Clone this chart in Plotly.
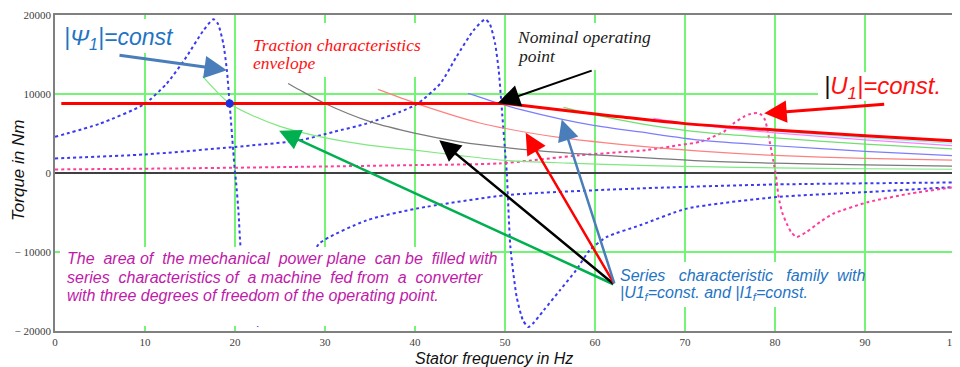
import plotly.graph_objects as go

# ---------------- data ----------------
# |Psi1| = const curves (blue dotted)
psi_a_f = [0, 5, 9.9, 12.4, 14.6, 16.5, 17.6, 18.1, 18.7, 19.1, 19.4, 19.8, 20.0, 20.1, 20.4,
           20.6, 21.3, 22.0, 22.6, 23.1, 24.3, 26.1, 27.9, 29.4, 34.6, 40.2, 50.2, 65, 80, 100]
psi_a_T = [4580, 6250, 8700, 11300, 14700, 18060, 19450, 18900, 16380, 13000, 8790, 2870, 0, -920, -5140,
           -9150, -15500, -18500, -19400, -19000, -17300, -14500, -11800, -8900, -6000, -4500, -2800, -1950, -1450, -1200]

psi_b_f = [0, 10, 20, 27.2, 30.9, 34.6, 38.3, 40.2, 42.8, 44.6, 46.5, 47.8, 48.3, 48.9, 49.3, 49.6,
           50.0, 50.2, 50.6, 51.3, 52.0, 52.6, 53.1, 54.3, 56.1, 57.9, 59.4, 61.3, 65, 70.2, 80.2, 90.4, 100]
psi_b_T = [1840, 2350, 3300, 4130, 5190, 6250, 7720, 8700, 11300, 14700, 18060, 19450, 18900, 16380, 13000, 8790,
           2870, 0, -9370, -15700, -18650, -19500, -19060, -17380, -14850, -12300, -9780, -8100, -6620, -4510, -3040, -2400, -1770]

# |U1| = const curve (pink dotted)
u1_f = [0, 15, 27.2, 40, 49.4, 58.3, 65.7, 69.4, 71.7, 73.1, 74.3, 75.4, 76.5, 77.2, 78.0, 78.5, 78.9,
        79.2, 79.45, 79.8, 80.1, 80.4, 80.8, 81.3, 81.8, 82.4, 83.5, 85, 86.5, 90.4, 95, 100]
u1_T = [450, 600, 780, 1000, 1210, 2250, 2900, 3530, 3950, 4580, 5210, 6280, 7110, 7450, 7600, 7350, 6700,
        5210, 3740, 1630, -270, -3020, -5000, -6400, -7500, -8100, -7470, -6200, -5140, -3670, -2610, -1770]

# traction characteristics envelope (red): constant-torque part and falling part
env_flat_f = [0.7, 50]
env_flat_T = [8800, 8800]
env_fall_f = [50, 56, 62.8, 70, 80, 90, 100]
env_fall_T = [8800, 8000, 7110, 6250, 5450, 4720, 4070]

# operating point on the |Psi1| curve
pt_f = [19.4]
pt_T = [8800]

# series characteristic family (thin solid lines)
ser_green1_f = [16.4, 19.4, 22, 25, 29.4, 35, 40.2, 45, 50.2, 57, 65, 71.7, 80, 90, 100]
ser_green1_T = [12240, 8800, 7250, 5900, 4600, 3500, 2870, 2200, 1580, 1250, 975, 800, 650, 540, 470]
ser_gray_f = [25.9, 27.2, 30, 35, 40.2, 45, 50.2, 56, 62.8, 71.7, 80, 90, 100]
ser_gray_T = [11340, 10500, 8800, 6500, 4990, 3950, 3200, 2600, 2100, 1540, 1250, 1030, 870]
ser_salmon_f = [35.9, 40.2, 47.2, 50.2, 56, 62.8, 71.7, 80, 90, 100]
ser_salmon_T = [10580, 8790, 6330, 5600, 4500, 3620, 2760, 2220, 1850, 1630]
ser_blue_f = [45.9, 49.4, 52, 56.1, 60, 65, 71.7, 80, 90, 100]
ser_blue_T = [10080, 8790, 7950, 6850, 6000, 5200, 4160, 3450, 2750, 2170]
ser_green2_f = [56.5, 60, 65, 70, 75, 80, 90, 100]
ser_green2_T = [8300, 7350, 6250, 5400, 4850, 4450, 3650, 3020]
ser_magenta_f = [66.5, 70, 75, 80, 90, 100]
ser_magenta_T = [6910, 6300, 5620, 5090, 4200, 3440]
ser_cyan_f = [75, 80, 90, 100]
ser_cyan_T = [5800, 5300, 4450, 3740]

x_ticks = [0, 10, 20, 30, 40, 50, 60, 70, 80, 90, 100]
y_ticks = [-20000, -10000, 0, 10000, 20000]
y_tick_text = ["\u2212 20000", "\u2212 10000", "0", "10000", "20000"]

# ---------------- figure ----------------
# the page body has an 8 px margin, so the figure is 8 px smaller and shifted
OFF = 8
W, H = 960 - OFF, 367 - OFF
PL, PT, PR, PB = 55, 15, 955, 331          # plot area in page pixels
ML, MT = PL - OFF, PT - OFF
MR, MB = W - (PR - OFF), H - (PB - OFF)
PW, PH = PR - PL, PB - PT


def px(x):
    return (x - PL) / PW


def py(y):
    return (PB - y) / PH


fig = go.Figure()

BLUE_DOT = "#3a3af0"
PINK_DOT = "#ff3c9c"

for fx, ty, col in [(psi_a_f, psi_a_T, BLUE_DOT), (psi_b_f, psi_b_T, BLUE_DOT), (u1_f, u1_T, PINK_DOT)]:
    fig.add_trace(go.Scatter(x=fx, y=ty, mode="lines",
                             line=dict(color=col, width=2, dash="dot", shape="spline", smoothing=0.6)))

series = [
    (ser_green1_f, ser_green1_T, "#7fe87f"),
    (ser_gray_f, ser_gray_T, "#7a7a7a"),
    (ser_salmon_f, ser_salmon_T, "#ff8080"),
    (ser_blue_f, ser_blue_T, "#7c7cff"),
    (ser_green2_f, ser_green2_T, "#6fe06f"),
    (ser_magenta_f, ser_magenta_T, "#ff80ff"),
    (ser_cyan_f, ser_cyan_T, "#7ff5f5"),
]
for fx, ty, col in series:
    fig.add_trace(go.Scatter(x=fx, y=ty, mode="lines",
                             line=dict(color=col, width=1.2, shape="spline", smoothing=0.8)))

fig.add_trace(go.Scatter(x=env_flat_f, y=env_flat_T, mode="lines",
                         line=dict(color="#ff0000", width=3)))
fig.add_trace(go.Scatter(x=env_fall_f, y=env_fall_T, mode="lines",
                         line=dict(color="#ff0000", width=3, shape="spline", smoothing=1.0)))
fig.add_trace(go.Scatter(x=pt_f, y=pt_T, mode="markers",
                         marker=dict(color="#1f2fe0", size=8)))

# white text boxes (hide grid/curves under the text, as in the reference)
boxes = [(60, 19, 185, 53), (247, 23, 425, 77), (512, 23, 655, 70),
         (818, 72, 952, 101), (616, 262, 864, 307), (60, 247, 490, 326)]
shapes = []
for x0, y0, x1, y1 in boxes:
    shapes.append(dict(type="rect", xref="paper", yref="paper",
                       x0=px(x0), x1=px(x1), y0=py(y1), y1=py(y0),
                       fillcolor="white", line=dict(width=0), layer="above"))

ann = []
SANS = "Liberation Sans"
SERIF = "Liberation Serif"


def text(x, y, s, color, size, family=SANS, xanchor="left", yanchor="middle"):
    ann.append(dict(x=px(x), y=py(y), xref="paper", yref="paper", text=s, showarrow=False,
                    xanchor=xanchor, yanchor=yanchor, align="left",
                    font=dict(family=family, size=size, color=color)))


NB = "\u00a0"


def spaced(words, gaps):
    out = words[0]
    for w, g in zip(words[1:], gaps):
        out += NB * g + w
    return out


PSI_BLUE = "#1f74c4"
text(62, 38, "<i>|\u03a8<sub>1</sub>|=const</i>", PSI_BLUE, 23)
text(251, 45, "<i>Traction characteristics</i>", "#ff1010", 17.5, SERIF)
text(251, 63, "<i>envelope</i>", "#ff1010", 17.5, SERIF)
text(515, 37, "<i>Nominal operating</i>", "#202020", 17.5, SERIF)
text(515, 56, "<i>point</i>", "#202020", 17.5, SERIF)
text(822, 87, "<i><span style='color:#101010'>|</span>U<sub>1</sub>|=const.</i>", "#ff1010", 24)

MAG = "#c01aa8"
l1 = "The area of the mechanical power plane can be filled with".split()
l2 = "series characteristics of a machine fed from a converter".split()
text(65, 258, "<i>" + spaced(l1, [2, 1, 2, 1, 2, 1, 2, 1, 2, 1]) + "</i>", MAG, 16)
text(65, 277, "<i>" + spaced(l2, [2, 1, 2, 1, 2, 1, 2, 2]) + "</i>", MAG, 16)
text(65, 295, "<i>with three degrees of freedom of the operating point.</i>", MAG, 16)

l3 = "Series characteristic family with".split()
text(618, 275, "<i>" + spaced(l3, [3, 3, 2]) + "</i>", PSI_BLUE, 16)
text(618, 293, "<i>|U1<sub>f</sub>=const. and |I1<sub>f</sub>=const.</i>", PSI_BLUE, 16)

# axis titles
ann.append(dict(x=px(494), y=py(358), xref="paper", yref="paper", showarrow=False,
                text="<i>Stator frequency in Hz</i>", xanchor="center", yanchor="middle",
                font=dict(family=SANS, size=16, color="#101010")))
ann.append(dict(x=px(18), y=py(171), xref="paper", yref="paper", showarrow=False,
                text="<i>Torque in Nm</i>", textangle=-90, xanchor="center", yanchor="middle",
                font=dict(family=SANS, size=17, color="#101010")))

# arrows: (tail f, tail T, tip f, tip T, color, width, size)
arrows = [
    (7.0, 14930, 19.1, 13020, "#4a7ebb", 3, 1.5),
    (59.8, 13020, 49.2, 8850, "#000000", 2, 2.2),
    (92.3, 8720, 78.8, 7550, "#ff0000", 3, 1.5),
    (62.2, -14170, 24.9, 5340, "#00b050", 2.5, 1.7),
    (62.2, -14170, 42.7, 4160, "#000000", 2.5, 1.7),
    (62.2, -14170, 52.3, 5090, "#ff0000", 2.5, 1.7),
    (62.2, -14170, 56.3, 6780, "#4a7ebb", 2.5, 1.7),
]
for tf, tT, hf, hT, col, w, s in arrows:
    ann.append(dict(x=hf, y=hT, ax=tf, ay=tT, xref="x", yref="y", axref="x", ayref="y",
                    text="", showarrow=True, arrowhead=2, arrowsize=s, arrowwidth=w,
                    arrowcolor=col, standoff=0, startstandoff=0))

GRID = "#74f474"
fig.update_layout(
    width=W, height=H,
    margin=dict(l=ML, r=MR, t=MT, b=MB, autoexpand=False),
    paper_bgcolor="white", plot_bgcolor="white",
    showlegend=False,
    shapes=shapes,
    annotations=ann,
    xaxis=dict(range=[0, 100], tickvals=x_ticks, ticktext=[str(v) for v in x_ticks],
               showgrid=True, gridcolor=GRID, gridwidth=1.5,
               zeroline=False, showline=True, linecolor="#808080", linewidth=1.5, mirror=True,
               ticks="", ticklabeloverflow="allow",
               tickfont=dict(family=SERIF, size=11, color="#404040")),
    yaxis=dict(range=[-20000, 20000], tickvals=y_ticks, ticktext=y_tick_text,
               showgrid=True, gridcolor=GRID, gridwidth=1.5,
               zeroline=True, zerolinecolor="#404040", zerolinewidth=1.5,
               showline=True, linecolor="#808080", linewidth=1.5, mirror=True,
               ticks="", ticklabeloverflow="allow",
               tickfont=dict(family=SERIF, size=11, color="#404040")),
)

fig.write_html("out.html")
